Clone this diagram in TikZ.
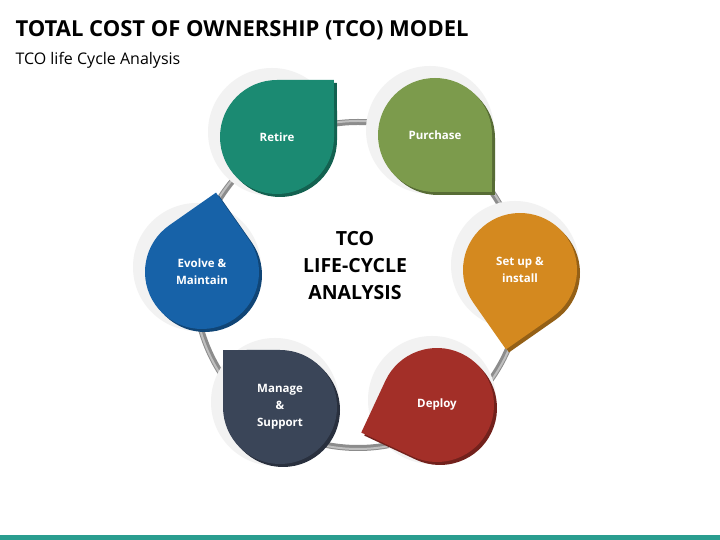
\documentclass[tikz,border=0pt]{standalone}
\usepackage{fontspec}
\setmainfont{Open Sans}
\usetikzlibrary{calc}
\definecolor{cRet}{HTML}{1B8A72}
\definecolor{cPur}{HTML}{7C9B4C}
\definecolor{cSet}{HTML}{D4891F}
\definecolor{cDep}{HTML}{A32F28}
\definecolor{cMan}{HTML}{3A4558}
\definecolor{cEvo}{HTML}{1762A8}
\definecolor{teal}{HTML}{2A9D8F}
\newcommand\dropshape[5]{%
 \fill[#5] ($(#1,#2)+({#4+45}:#3)$) arc[start angle={#4+45}, end angle={#4+315}, radius=#3] -- ($(#1,#2)+(#4:{#3*1.414})$) -- cycle;}
\newcommand\mydrop[6]{% name x y angle color label
 \fill[black!5] (#2-5,#3+5) circle (64);
 \dropshape{#2+3}{#3-3}{57}{#4}{#5!70!black}
 \dropshape{#2}{#3}{57}{#4}{#5}
 \node[lbl] (#1) at (#2,#3) {#6};}
\tikzset{lbl/.style={text=white,font=\bfseries\fontsize{11.5}{17}\selectfont,align=center}}
\begin{document}
\begin{tikzpicture}[x=1pt,y=1pt]
\useasboundingbox (0,0) rectangle (720,540);
\fill[white] (0,0) rectangle (720,540);
\node[anchor=west,font=\bfseries\fontsize{22}{24}\selectfont] (title) at (12,510) {TOTAL COST OF OWNERSHIP (TCO) MODEL};
\node[anchor=west,font=\fontsize{16}{18}\selectfont] (sub) at (12,480) {TCO life Cycle Analysis};
\fill[teal] (0,0) rectangle (720,5);
\draw[line width=6pt,black!45] (358,255) circle (163);
\draw[line width=2pt,black!25] (358,255) circle (164);
\mydrop{ret}{277}{403}{45}{cRet}{Retire}
\mydrop{pur}{435}{405}{-45}{cPur}{Purchase}
\mydrop{set}{520}{270}{-100}{cSet}{Set up \&\\install}
\mydrop{dep}{437}{135}{200}{cDep}{Deploy}
\mydrop{man}{280}{133}{135}{cMan}{Manage\\\&\\Support}
\mydrop{evo}{202}{268}{80}{cEvo}{Evolve \&\\Maintain}
\node[font=\bfseries\fontsize{19.5}{27}\selectfont,align=center] (ctr) at (355,274) {TCO\\LIFE-CYCLE\\ANALYSIS};
\end{tikzpicture}
\end{document}
